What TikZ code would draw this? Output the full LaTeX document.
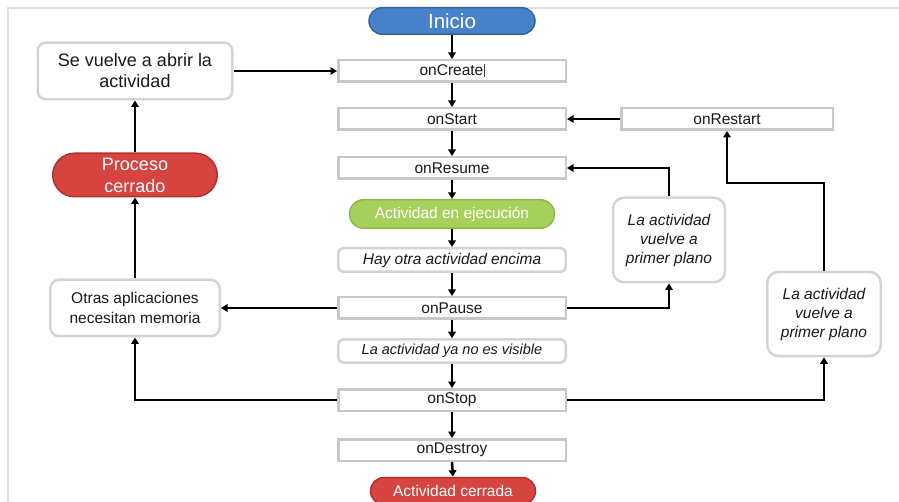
\documentclass[tikz,border=0pt]{standalone}
\usepackage{fontspec}
\setmainfont{Liberation Sans}
\usetikzlibrary{arrows.meta,shapes.misc}

\definecolor{txt}{RGB}{26,26,26}
\definecolor{boxgray}{RGB}{200,200,200}
\definecolor{notegray}{RGB}{212,212,212}
\definecolor{framegray}{RGB}{222,222,222}
\definecolor{bluefill}{RGB}{72,130,202}
\definecolor{blueline}{RGB}{50,98,160}
\definecolor{greenfill}{RGB}{168,208,92}
\definecolor{greenline}{RGB}{142,184,72}
\definecolor{redfill}{RGB}{214,68,64}
\definecolor{redline}{RGB}{176,48,46}

\begin{document}
\begin{tikzpicture}[x=1pt,y=-1pt,
  base/.style={font=\fontsize{15.5}{19.5}\selectfont, text=txt, inner sep=0pt, align=center},
  method/.style={base, draw=boxgray, line width=2.5pt, fill=white,
                 minimum width=227.5pt, minimum height=21.5pt},
  note/.style={base, draw=notegray, line width=2.5pt, fill=white, rounded corners=6pt},
  pill/.style={rounded rectangle, inner sep=0pt, text=white, line width=1.5pt, align=center,
               font=\fontsize{15.5}{19.5}\selectfont},
  arr/.style={line width=2.5pt, draw=black, -{Triangle[width=7.5pt,length=6.5pt]}}
]
\useasboundingbox (0,0) rectangle (899,502);

% page frame
\draw[framegray, line width=1.5pt] (899,8) -- (8,8) -- (8,502);

% main lifecycle column
\node[pill, fill=bluefill, draw=blueline, minimum width=166pt, minimum height=26.5pt,
      font=\fontsize{20.5}{24}\selectfont] (inicio) at (452,21) {Inicio};
\node[method] (oncreate) at (452,71)
  {onCreate\kern0.3pt{\color{black!75}\rule[-1.5pt]{0.8pt}{13pt}}};
\node[method] (onstart) at (452,119) {onStart};
\node[method] (onresume) at (452,168) {onResume};
\node[pill, fill=greenfill, draw=greenline, minimum width=205pt, minimum height=28.5pt]
  (ejec) at (452,214) {Actividad en ejecución};
\node[note, minimum width=227.5pt, minimum height=23.5pt, rounded corners=5pt]
  (encima) at (452,260) {\itshape Hay otra actividad encima};
\node[method] (onpause) at (452,308) {onPause};
\node[note, minimum width=227.5pt, minimum height=23pt, rounded corners=5pt,
      font=\fontsize{14.5}{18}\selectfont]
  (novisible) at (452,351) {\itshape La actividad ya no es visible};
\node[method] (onstop) at (452,400) {onStop};
\node[method] (ondestroy) at (452,450) {onDestroy};
\node[pill, fill=redfill, draw=redline, minimum width=165pt, minimum height=27pt]
  (cerrada) at (453,491) {Actividad cerrada};

% left column
\node[note, minimum width=194.5pt, minimum height=56.5pt, rounded corners=8pt,
      font=\fontsize{18}{21}\selectfont]
  (reabrir) at (135,71) {Se vuelve a abrir la\\actividad};
\node[pill, fill=redfill, draw=redline, minimum width=164.5pt, minimum height=43.5pt,
      font=\fontsize{18}{22}\selectfont]
  (proceso) at (135,175) {Proceso\\cerrado};
\node[note, minimum width=169.5pt, minimum height=56.5pt, rounded corners=9pt]
  (otras) at (135,308) {Otras aplicaciones\\necesitan memoria};

% right column
\node[method, minimum width=211.5pt] (onrestart) at (727,119) {onRestart};
\node[note, minimum width=112pt, minimum height=84.5pt, rounded corners=11pt,
      font=\fontsize{15.5}{19}\selectfont]
  (vuelveA) at (669,240) {\itshape La actividad\\\itshape vuelve a\\\itshape primer plano};
\node[note, minimum width=113.5pt, minimum height=84pt, rounded corners=11pt,
      font=\fontsize{15.5}{19}\selectfont]
  (vuelveB) at (824,314) {\itshape La actividad\\\itshape vuelve a\\\itshape primer plano};

\coordinate (restartbend) at (727,183);

% straight flow down the column
\draw[arr] (inicio.south) -- (oncreate.north);
\draw[arr] (oncreate.south) -- (onstart.north);
\draw[arr] (onstart.south) -- (onresume.north);
\draw[arr] (onresume.south) -- (ejec.north);
\draw[arr] (ejec.south) -- (encima.north);
\draw[arr] (encima.south) -- (onpause.north);
\draw[arr] (onpause.south) -- (novisible.north);
\draw[arr] (novisible.south) -- (onstop.north);
\draw[arr] (onstop.south) -- (ondestroy.north);
\draw[arr] (ondestroy.south) -- (cerrada.north);

% process killed and recreated
\draw[arr] (onpause.west) -- (otras.east);
\draw[arr] (onstop.west) -| (otras.south);
\draw[arr] (otras.north) -- (proceso.south);
\draw[arr] (proceso.north) -- (reabrir.south);
\draw[arr] (reabrir.east) -- (oncreate.west);

% returning to the foreground
\draw[arr] (onpause.east) -| (vuelveA.south);
\draw[arr] (vuelveA.north) |- (onresume.east);
\draw[arr] (onstop.east) -| (vuelveB.south);
\draw[arr] (vuelveB.north) |- (restartbend) -- (onrestart.south);
\draw[arr] (onrestart.west) -- (onstart.east);
\end{tikzpicture}
\end{document}
